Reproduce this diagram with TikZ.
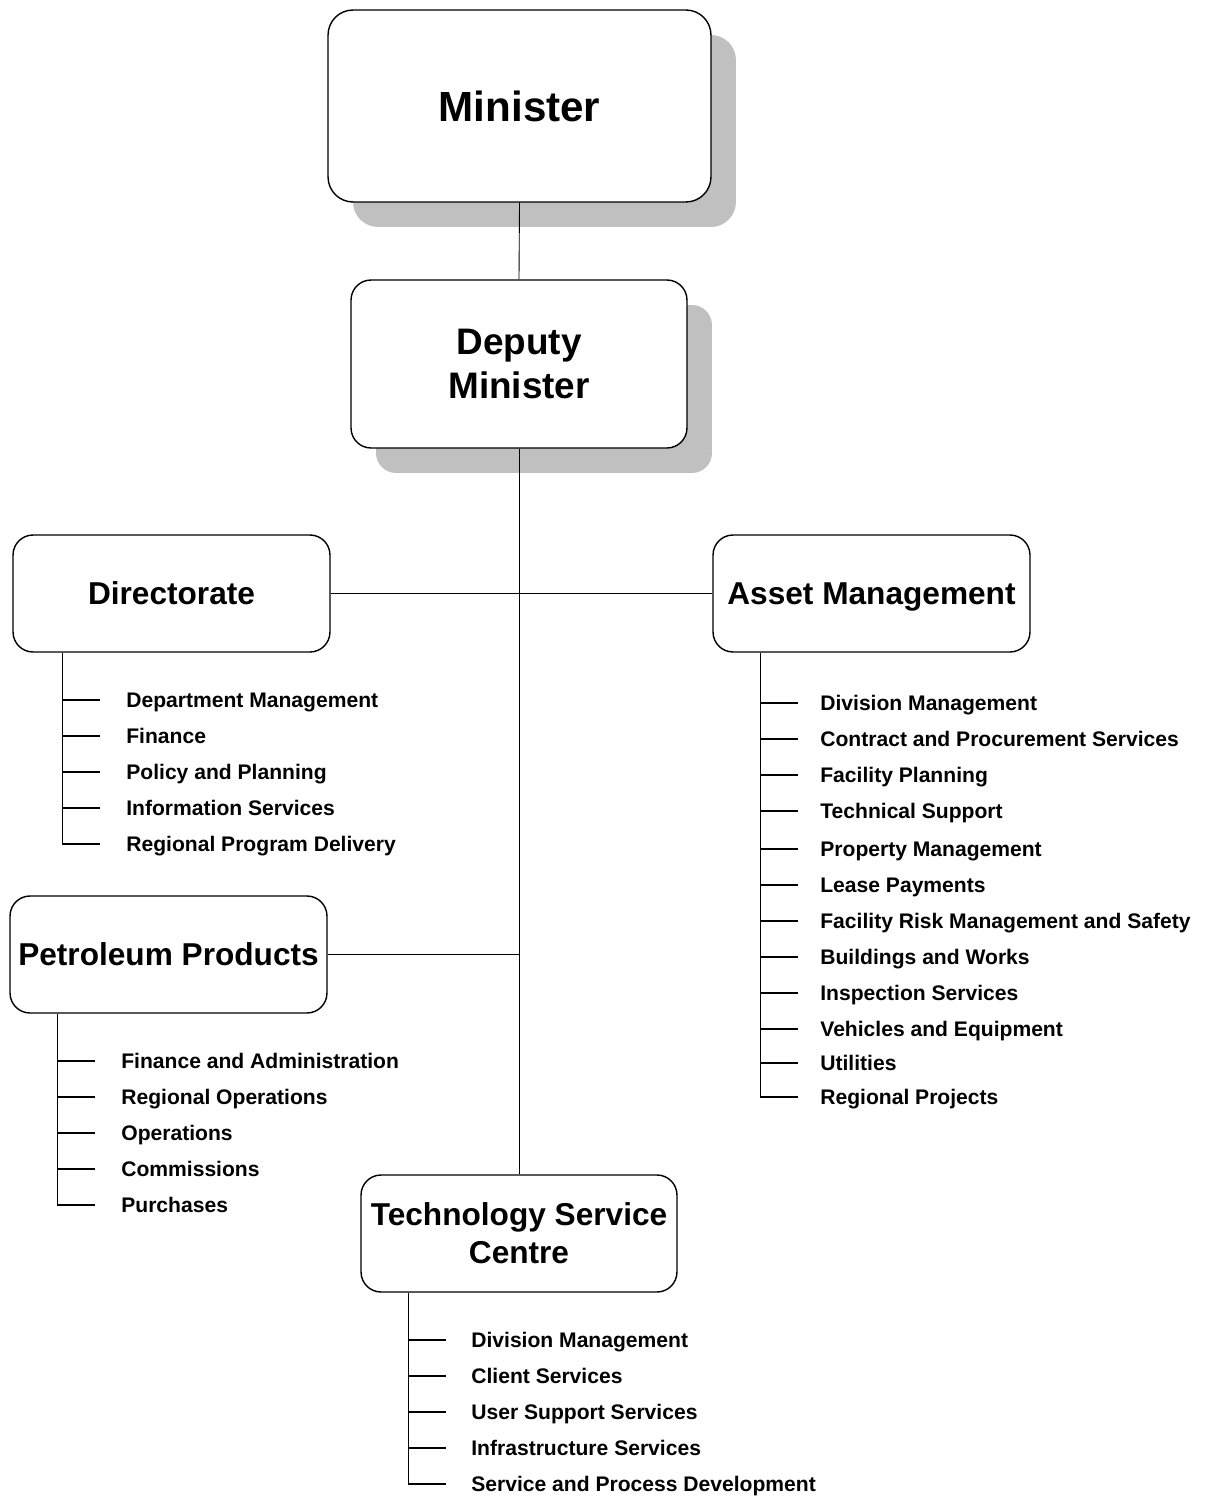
\documentclass[tikz,border=0pt]{standalone}
\usepackage{fontspec}
\setmainfont{Liberation Sans}
\usetikzlibrary{shadows}
\definecolor{shadowgray}{RGB}{192,192,192}
\tikzstyle{orgbox}=[shape=rectangle, rounded corners=0.4cm, draw=black, line width=0.8pt, fill=white, inner sep=0, align=center, font=\fontsize{18}{21.6}\selectfont\bfseries]
\tikzstyle{shadowed}=[drop shadow={shadow xshift=0.5cm, shadow yshift=-0.5cm, fill=shadowgray, opacity=1}]
\tikzstyle{subitem}=[anchor=west, inner xsep=0.52cm, inner ysep=0, text height=8.6pt, text depth=0pt, font=\fontsize{12}{14}\selectfont\bfseries]
\tikzstyle{link}=[line width=0.5pt]
\tikzstyle{branch}=[line width=0.8pt]

\begin{document}
\begin{tikzpicture}[x=0.02cm, y=-0.02cm]
\useasboundingbox (0,0) rectangle (1207,1497);
% top of the chart
\node at (519.5,106)[orgbox, shadowed, rounded corners=0.5cm, minimum width=7.66cm, minimum height=3.84cm, font=\fontsize{24}{28}\selectfont\bfseries](minister){Minister};
\node at (519,364)[orgbox, shadowed, minimum width=6.72cm, minimum height=3.36cm, font=\fontsize{21}{25}\selectfont\bfseries](deputy){Deputy\\Minister};
% branches
\node at (171.5,593.5)[orgbox, minimum width=6.34cm, minimum height=2.34cm](dir){Directorate};
\node at (871.5,593.5)[orgbox, minimum width=6.34cm, minimum height=2.34cm, text height=12.9pt, text depth=0pt](asset){Asset Management};
\node at (168.5,954.5)[orgbox, minimum width=6.34cm, minimum height=2.34cm](petro){Petroleum Products};
\node at (519,1233.5)[orgbox, minimum width=6.32cm, minimum height=2.34cm](tsc){Technology Service\\Centre};
\draw[link] (minister.south)--(deputy.north);
\draw[link] (deputy.south)--(tsc.north);
\draw[link] (dir.east)--(asset.west);
\draw[link] (petro.east)--(petro.east -| tsc.north);
% sub units
\foreach \y/\t [count=\i] in {700/Department Management, 736/Finance, 772/Policy and Planning, 808/Information Services, 844/Regional Program Delivery}
  {\node at (100,\y)[subitem](d\i){\t};}
\foreach \y/\t [count=\i] in {703/Division Management, 739/Contract and Procurement Services, 775/Facility Planning, 811/Technical Support, 849/Property Management, 885/Lease Payments, 921/Facility Risk Management and Safety, 957/Buildings and Works, 993/Inspection Services, 1029/Vehicles and Equipment, 1063/Utilities, 1097/Regional Projects}
  {\node at (798,\y)[subitem, inner xsep=0.44cm](a\i){\t};}
\foreach \y/\t [count=\i] in {1061/Finance and Administration, 1097/Regional Operations, 1133/Operations, 1169/Commissions, 1205/Purchases}
  {\node at (95,\y)[subitem](p\i){\t};}
\foreach \y/\t [count=\i] in {1340/Division Management, 1376/Client Services, 1412/User Support Services, 1448/Infrastructure Services, 1484/Service and Process Development}
  {\node at (446,\y)[subitem, inner xsep=0.5cm](t\i){\t};}
\coordinate (ds) at ([xshift=1cm]dir.south west);
\coordinate (as) at ([xshift=0.96cm]asset.south west);
\coordinate (ps) at ([xshift=0.96cm]petro.south west);
\coordinate (ts) at ([xshift=0.96cm]tsc.south west);
\draw[branch] (ds) |- (d5.west);
\draw[branch] (as) |- (a12.west);
\draw[branch] (ps) |- (p5.west);
\draw[branch] (ts) |- (t5.west);
\foreach \i in {1,...,4} {\draw[branch] (d\i.west -| ds)--(d\i.west);}
\foreach \i in {1,...,11} {\draw[branch] (a\i.west -| as)--(a\i.west);}
\foreach \i in {1,...,4} {\draw[branch] (p\i.west -| ps)--(p\i.west);}
\foreach \i in {1,...,4} {\draw[branch] (t\i.west -| ts)--(t\i.west);}
\end{tikzpicture}
\end{document}
